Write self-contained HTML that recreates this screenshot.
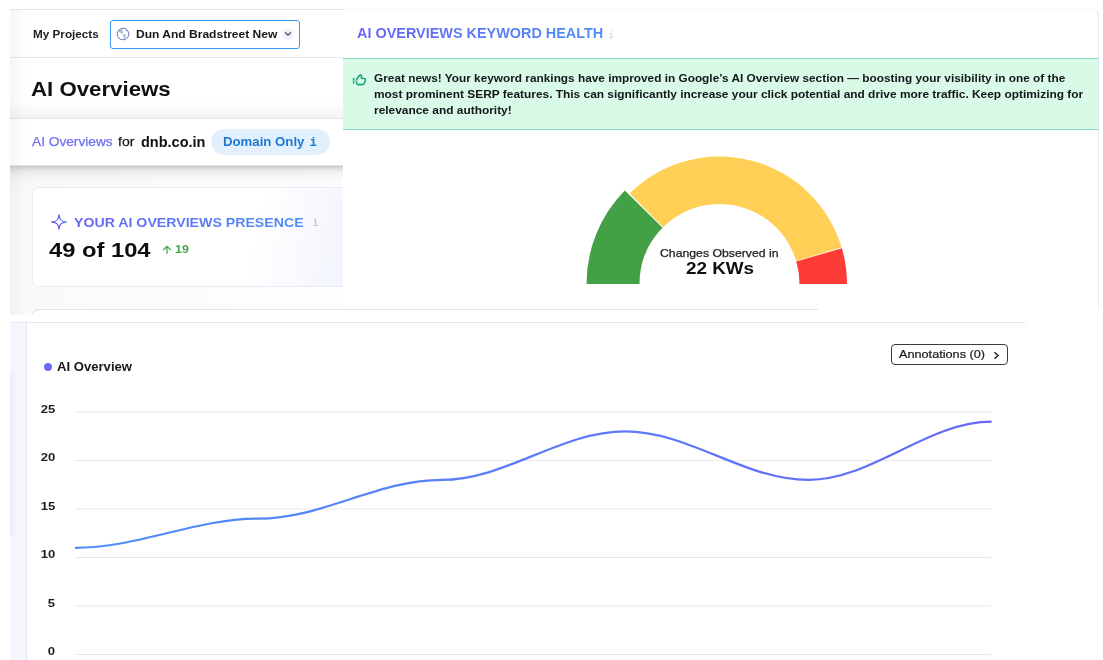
<!DOCTYPE html>
<html lang="en">
<head>
<meta charset="utf-8">
<title>AI Overviews</title>
<style>
*{box-sizing:border-box;margin:0;padding:0}
html,body{width:1103px;height:660px;overflow:hidden;background:#fff}
body{position:relative;font-family:"Liberation Sans",sans-serif;color:#111;font-weight:700}
.abs{position:absolute;white-space:nowrap}
.t{position:absolute;white-space:nowrap;line-height:1;transform-origin:0 0}

/* ---------- screenshot 1 (left/top app) ---------- */
#s1{position:absolute;left:10px;top:9px;width:808px;height:306px;overflow:hidden;background:linear-gradient(90deg,#f9f9f9 0,#fcfcfc 160px,#fefefe 333px)}
#s1 .edge{position:absolute;left:0;top:0;width:18px;height:306px;background:linear-gradient(90deg,rgba(120,125,140,.065),rgba(120,125,140,0));z-index:5}
#hdr{position:absolute;left:0;top:0;width:808px;height:49px;background:#fff;border-top:1px solid #e4e6ee;border-bottom:1px solid #e6e8ee}
#ttl{position:absolute;left:0;top:49px;width:808px;height:60px;background:linear-gradient(180deg,#fff 0,#fff 70%,#f4f4f5 100%)}
#crumb{position:absolute;left:0;top:109px;width:808px;height:48px;background:#fff;border-top:1px solid #e3e6ef;border-bottom:1px solid #e0e4ee}
#crsh{position:absolute;left:0;top:157px;width:808px;height:24px;background:linear-gradient(180deg,rgba(0,0,0,.21) 0,rgba(0,0,0,.13) 9%,rgba(0,0,0,.07) 22%,rgba(0,0,0,.03) 40%,rgba(0,0,0,.012) 62%,rgba(0,0,0,0) 100%)}
#sel{position:absolute;left:100px;top:11px;width:190px;height:29px;border:1px solid #369bf6;border-radius:3px;background:#fff}
#chev{position:absolute;left:273px;top:20px;width:10px;height:10px;background:#edf3fe;border-radius:1px}
#pill{position:absolute;left:201.200px;top:119.700px;width:118.600px;height:26.800px;border-radius:14px;background:#e2f0fd}
#card1{position:absolute;left:22px;top:178px;width:800px;height:100px;border:1px solid #e8ebf5;border-radius:6px;background:linear-gradient(100deg,#fff 0,#fff 28%,#f1f3fd 42%,#f3f4fd 100%)}
#card2{position:absolute;left:22px;top:300px;width:786px;height:40px;border:1px solid #dfe3f0;border-radius:7px 0 0 0;border-right:0;background:#fff}
.grad{background:linear-gradient(90deg,#6563f4,#4d8ef8);-webkit-background-clip:text;background-clip:text;color:transparent}

/* ---------- panel 2 (keyword health) ---------- */
#p2{position:absolute;left:343px;top:0;width:760px;height:306px;background:#fff;overflow:hidden}
#p2b{position:absolute;left:-20px;top:9px;width:776px;height:320px;border:1px solid #e3e5f0;border-radius:6px;border-top-color:#f6f6fa}
#alert{position:absolute;left:0;top:58px;width:755px;height:72px;background:#d8fae6;border-top:1px solid #89dabd;border-bottom:1px solid #89dabd}
.al{font-size:11px;color:#14161c;font-weight:700}

/* ---------- panel 3 (chart) ---------- */
#p3{position:absolute;left:10px;top:322px;width:1016px;height:338px;background:#fff;overflow:hidden}
#p3top{position:absolute;left:0;top:0;width:1016px;height:1px;background:#e6e9f4}
#strip{position:absolute;left:0;top:0;width:17px;height:338px;background:#f6f6fe;border-right:1px solid #e4e6f1}
#annot{position:absolute;left:881px;top:22px;width:117px;height:21px;border:1px solid #3a3a3a;border-radius:4px;background:#fff}
.yl{position:absolute;right:971px;white-space:nowrap;font-size:11px;font-weight:700;color:#1d1d22;line-height:1;transform:scaleX(1.19);transform-origin:100% 0}
</style>
</head>
<body>

<!-- ================= screenshot 1 ================= -->
<div id="s1">
  <div id="hdr"></div>
  <div id="ttl"></div>
  <div id="card1"></div>
  <div id="card2"></div>
  <div id="crsh"></div>
  <div id="crumb"></div>
  <div class="edge"></div>

  <span class="t" id="myproj" style="left:23px;top:20px;font-size:11px;color:#1d1d22;transform:scaleX(1.065)">My Projects</span>
  <div id="sel"></div>
  <svg class="abs" id="globe" style="left:105.700px;top:18.200px" width="14" height="14" viewBox="0 0 14 14"><circle cx="7" cy="7" r="5.800" fill="#fff" stroke="#6c7db6" stroke-width="1"/><path fill="#a9b6da" d="M3.800 2.600c1-.7 2.200-.8 2.800-.5.200.8-.6 1.200-.4 2 .2.700 1.100.6 1.100 1.500 0 .8-.9 1.100-1.700.9-.8-.200-1-.9-1.700-1.100-.6-.200-1.200 0-1.600.4.100-1.300.700-2.400 1.500-3.200zM7.300 7.300c.9-.3 2.100.1 2.500.9.400.9-.3 1.500-.6 2.300-.2.600-.1 1.300-.7 1.700-.7-.5-.6-1.400-.9-2.200-.3-.8-1.100-1.300-.3-2.700zM9.800 2.300c.9.500 1.700 1.300 2.100 2.300-.7.300-1.600.1-2-.6-.3-.5-.4-1.100-.1-1.700z"/></svg>
  <span class="t" id="dun" style="left:125.600px;top:20px;font-size:11px;color:#17171c;transform:scaleX(1.094)">Dun And Bradstreet New</span>
  <div id="chev"></div>
  <svg class="abs" style="left:274px;top:22px" width="8" height="6" viewBox="0 0 8 6" fill="none" stroke="#333" stroke-width="1.1"><path d="M1.2 1.300 4 4.300 6.800 1.300"/></svg>

  <span class="t" id="h1" style="left:21px;top:70px;font-size:20px;color:#101014;transform:scaleX(1.112)">AI Overviews</span>

  <span class="t" id="c1" style="left:22px;top:126.500px;font-size:12.500px;font-weight:400;color:#6f70f2;-webkit-text-stroke:.25px #6f70f2;transform:scaleX(1.095)">AI Overviews</span>
  <span class="t" id="c2" style="left:107.500px;top:126.500px;font-size:12.500px;font-weight:400;color:#15151a;-webkit-text-stroke:.25px #15151a;transform:scaleX(1.12)">for</span>
  <span class="t" id="c3" style="left:131px;top:126px;font-size:14.500px;color:#101014">dnb.co.in</span>
  <div id="pill"></div>
  <span class="t" id="c4" style="left:212.500px;top:126.400px;font-size:13px;color:#1e78d2;transform:scaleX(1.015)">Domain Only</span>
  <span class="t" id="c5" style="left:299.500px;top:128px;font-size:12.500px;color:#1e78d2;font-family:'Liberation Mono',monospace">i</span>

  <svg class="abs" id="spark" style="left:39.500px;top:204.200px" width="18" height="18" viewBox="0 0 18 18" fill="none" stroke-width="1.300" stroke-linejoin="round"><defs><linearGradient id="spg" x1="0" y1="0" x2="1" y2="0"><stop offset="0" stop-color="#5f5cf6"/><stop offset=".7" stop-color="#5f5cf6"/><stop offset="1" stop-color="#4a8ff6"/></linearGradient></defs><path stroke="url(#spg)" d="M9.00 1.80C9.35 6.80 11.20 8.65 16.20 9.00 11.20 9.35 9.35 11.20 9.00 16.20 8.65 11.20 6.80 9.35 1.80 9.00 6.80 8.65 8.65 6.80 9.00 1.80Z"/></svg>
  <span class="t grad" id="pres" style="left:64px;top:207px;font-size:13.600px;transform:scaleX(1.041)">YOUR AI OVERVIEWS PRESENCE</span>
  <span class="t" id="presi" style="left:303.200px;top:209px;transform:scaleX(.78);font-size:11px;color:#b0b0b9;font-family:'Liberation Mono',monospace;font-weight:400">i</span>
  <span class="t" id="big" style="left:39px;top:231px;font-size:20px;color:#0d0d10;transform:scaleX(1.186)">49 of 104</span>
  <svg class="abs" style="left:151.500px;top:235.700px" width="10" height="10" viewBox="0 0 10 10" fill="none" stroke="#45a64f" stroke-width="1.2"><path d="M5 9V1.500M1.300 5 5 1.300 8.700 5"/></svg>
  <span class="t" id="n19" style="left:165px;top:235.700px;font-size:10px;color:#45a64f;transform:scaleX(1.24)">19</span>
</div>

<!-- ================= panel 2 ================= -->
<div id="p2">
  <div id="p2b"></div>
  <span class="t grad" id="kh" style="left:14px;top:26px;font-size:14px;transform:scaleX(1.03)">AI OVERVIEWS KEYWORD HEALTH</span>
  <span class="t" id="khi" style="left:265.600px;top:32px;transform:scaleX(.78);font-size:9px;color:#c2c5d0;font-family:'Liberation Mono',monospace;font-weight:400">i</span>
  <div id="alert">
    <svg class="abs" id="thumb" style="left:7px;top:13px" width="18" height="16" viewBox="0 0 18 16" fill="none" stroke="#18a27b" stroke-width="1.550" stroke-linejoin="round" stroke-linecap="round"><path d="M3.600 6.600V11"/><path d="M6.500 7.600 9.600 3.300C10.400 2.600 11.600 3 11.500 4.200L11.300 6.200 13.800 6.400C15.200 6.500 15.600 7.600 15.200 8.800L14.600 10.600C14.200 12 13.400 12.600 12 12.600H8.800C7.400 12.600 6.500 12 6.500 10.800Z"/><path d="M4.300 8.800H6.300" stroke="#8fd9bf" stroke-width="2"/></svg>
    <span class="t al" id="al1" style="left:30.700px;top:13.500px;transform:scaleX(1.075)">Great news! Your keyword rankings have improved in Google’s AI Overview section — boosting your visibility in one of the</span>
    <span class="t al" id="al2" style="left:30.700px;top:29.500px;transform:scaleX(1.0826)">most prominent SERP features. This can significantly increase your click potential and drive more traffic. Keep optimizing for</span>
    <span class="t al" id="al3" style="left:30.700px;top:45.500px;transform:scaleX(1.083)">relevance and authority!</span>
  </div>
  <svg class="abs" id="gauge" style="left:230px;top:150px" width="290" height="140" viewBox="573 150 290 140">
    <g id="garcs"><path fill="#43a047" d="M586.50 284.00A133 133 0 0 1 624.80 190.61L662.54 227.83A80 80 0 0 0 639.50 284.00Z"/><path fill="#ffcf56" d="M629.66 193.53A127.5 127.5 0 0 1 841.62 247.36L796.13 261.01A80 80 0 0 0 663.13 227.23Z"/><path fill="#fd3c38" d="M841.88 248.21A127.5 127.5 0 0 1 847.00 284.00L799.50 284.00A80 80 0 0 0 796.28 261.55Z"/></g>
  </svg>
  <span class="t" id="chg" style="left:317px;top:248px;font-size:11px;transform:scaleX(1.114);font-weight:400;color:#1a1a1f;-webkit-text-stroke:.25px #1a1a1f">Changes Observed in</span>
  <span class="t" id="kws" style="left:342.500px;top:260px;font-size:17.300px;color:#101014;transform:scaleX(1.091)">22 KWs</span>
</div>

<!-- ================= panel 3 ================= -->
<div id="p3">
  <div id="strip"></div><div class="abs" style="left:0;top:51px;width:9px;height:164px;background:linear-gradient(90deg,rgba(150,150,155,.08),rgba(150,150,155,0))"></div><div id="p3top"></div>
  <div class="abs" id="dot" style="left:33.500px;top:40.500px;width:8px;height:8px;border-radius:50%;background:#6a6df4"></div>
  <span class="t" id="lg" style="left:47px;top:39px;font-size:12px;color:#17171c;transform:scaleX(1.092)">AI Overview</span>
  <div id="annot"></div>
  <span class="t" id="antx" style="left:889px;top:26px;font-size:11.600px;transform:scaleX(1.094);font-weight:400;color:#17171c;-webkit-text-stroke:.22px #17171c">Annotations (0)</span>
  <svg class="abs" style="left:983px;top:29px" width="7" height="9" viewBox="0 0 7 9" fill="none" stroke="#222" stroke-width="1.5"><path d="M1.500 1.200 5 4.500 1.500 7.800"/></svg>

  <div class="yl" style="top:81.6px">25</div>
  <div class="yl" style="top:130.1px">20</div>
  <div class="yl" style="top:178.6px">15</div>
  <div class="yl" style="top:227.1px">10</div>
  <div class="yl" style="top:275.6px">5</div>
  <div class="yl" style="top:324.1px">0</div>

  <svg class="abs" id="chart" style="left:0;top:0" width="1016" height="338" viewBox="10 322 1016 338">
    <defs><linearGradient id="lgr" gradientUnits="userSpaceOnUse" x1="75" y1="0" x2="992" y2="0"><stop offset="0" stop-color="#4e90f9"/><stop offset="1" stop-color="#6668f8"/></linearGradient></defs>
    <g stroke="#e9e9ec" stroke-width="1" id="grid">
      <path d="M75 412H991.500M75 460.5H991.500M75 509H991.500M75 557.5H991.500M75 606H991.500M75 654.5H991.500"/>
    </g>
    <path id="ln" fill="none" stroke="url(#lgr)" stroke-width="2.250" stroke-linecap="butt" d="M75 547.80C139.16 547.80 194.15 518.70 258.3 518.70C322.46 518.70 377.45 479.90 441.6 479.90C505.79 479.90 560.81 431.40 625 431.40C689.15 431.40 744.14 479.90 808.3 479.90C872.45 479.90 927.45 421.70 991.6 421.70"/>
  </svg>
</div>


</body>
</html>
